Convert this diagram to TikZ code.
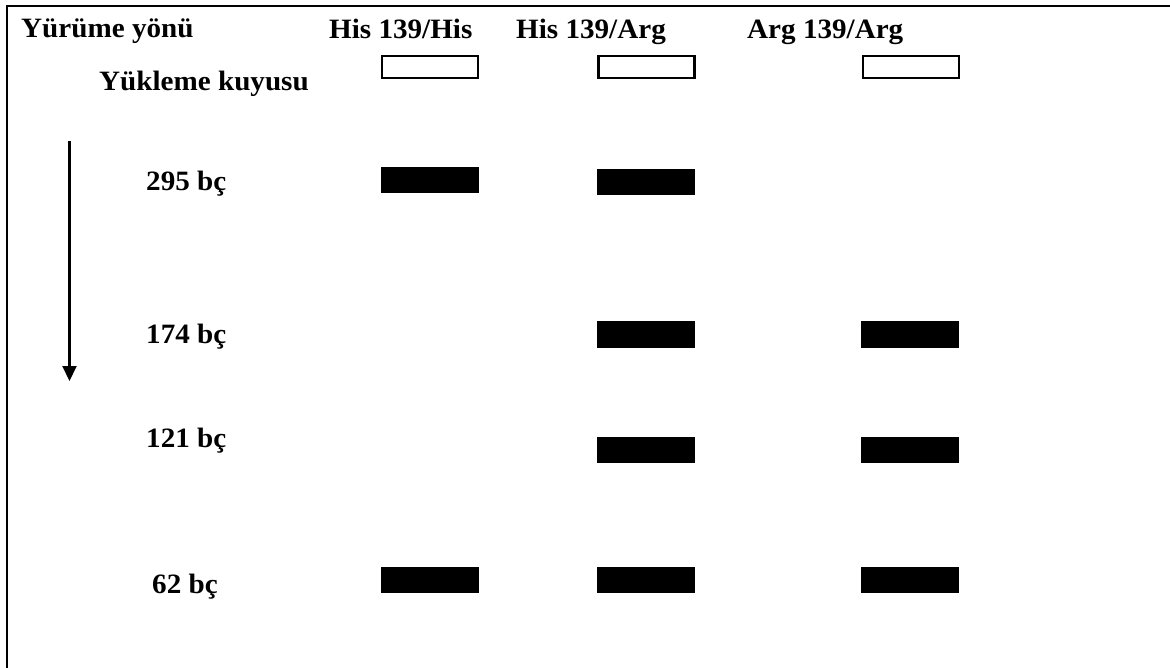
\documentclass[tikz,border=0pt]{standalone}
\usepackage{fontspec}
\setmainfont{Liberation Serif}
\usepackage{graphicx}
\usetikzlibrary{arrows.meta}

% labels are set a little wider than the font's natural width
\newcommand\widetext[1]{\scalebox{1.04}[1]{#1}}

\begin{document}
\begin{tikzpicture}[x=1pt,y=-1pt,
  label/.style={anchor=base west,inner sep=0pt,
    font=\fontsize{28}{32}\selectfont\bfseries},
  well/.style={draw,line width=2.3pt,fill=white,minimum width=96pt,
    minimum height=22pt,inner sep=0pt},
  band/.style={fill=black,minimum width=98pt,minimum height=26pt,inner sep=0pt},
  flow/.style={line width=2.1pt,-{Triangle[length=15pt,width=14pt]}}]
\useasboundingbox (0,0) rectangle (1170,668);

% frame
\draw[line width=2.4pt,line join=miter] (7,668) -- (7,6) -- (1170,6);

% column headings
\node[label] (dir)  at (21,38)  {\widetext{Yürüme yönü}};
\node[label] (hh)   at (329,38.5) {\widetext{His 139/His}};
\node[label] (ha)   at (516,38.5) {\widetext{His 139/Arg}};
\node[label] (aa)   at (747,38.5) {\widetext{Arg 139/Arg}};
\node[label] (load) at (99,91)  {\widetext{Yükleme kuyusu}};

% size markers
\node[label] (m295) at (146,191)   {\widetext{295 bç}};
\node[label] (m174) at (146,343.5) {\widetext{174 bç}};
\node[label] (m121) at (146,447)   {\widetext{121 bç}};
\node[label] (m62)  at (152,593.5) {\widetext{62 bç}};

% direction of migration
\coordinate (flowtop) at (69.5,141);
\coordinate (flowend) at (69.5,381);
\draw[flow] (flowtop) -- (flowend);

% loading wells
\node[well] (w1) at (430,67) {};
\node[well] (w2) at (646.5,67) {};
\node[well] (w3) at (911,67) {};

% bands
\node[band] (b1a) at (430,180) {};
\node[band] (b2a) at (646,182) {};

\node[band] (b2b) at (646,334.5) {};
\node[band] (b3b) at (910,334.5) {};

\node[band] (b2c) at (646,450) {};
\node[band] (b3c) at (910,450) {};

\node[band] (b1d) at (430,580) {};
\node[band] (b2d) at (646,580) {};
\node[band] (b3d) at (910,580) {};
\end{tikzpicture}
\end{document}
